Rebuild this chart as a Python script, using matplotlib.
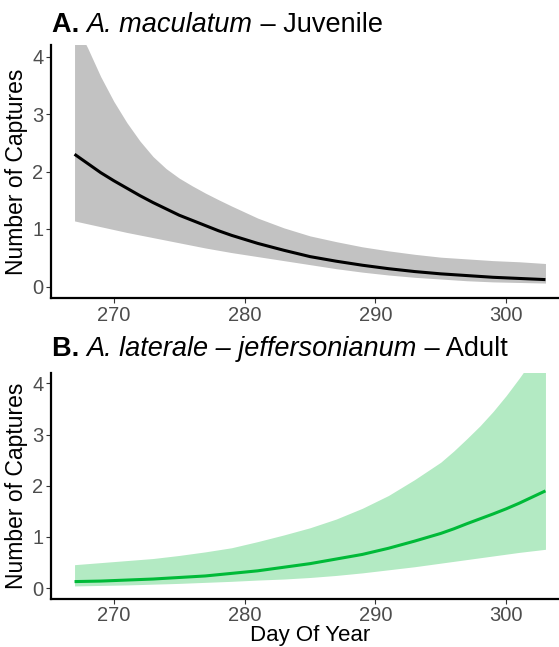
import matplotlib
matplotlib.use("Agg")
import matplotlib.pyplot as plt

plt.rcParams['font.family'] = ['Liberation Sans', 'DejaVu Sans']

# day of year
days = [267, 268, 269, 270, 271, 272, 273, 274, 275, 276, 277, 278, 279,
        281, 283, 285, 287, 289, 291, 293, 295, 296, 297, 298, 299, 300,
        301, 302, 303]

# A. maculatum - Juvenile
juv_fit = [2.30, 2.14, 1.98, 1.84, 1.71, 1.58, 1.46, 1.35, 1.24, 1.15, 1.06,
           0.97, 0.89, 0.75, 0.63, 0.52, 0.44, 0.37, 0.31, 0.26, 0.22, 0.205,
           0.19, 0.175, 0.16, 0.15, 0.14, 0.13, 0.12]
juv_lo = [1.14, 1.09, 1.04, 0.99, 0.94, 0.895, 0.85, 0.805, 0.76, 0.715, 0.67,
          0.63, 0.59, 0.52, 0.45, 0.38, 0.31, 0.25, 0.20, 0.16, 0.13, 0.115,
          0.10, 0.09, 0.08, 0.075, 0.07, 0.065, 0.06]
juv_hi = [4.60, 4.15, 3.65, 3.22, 2.85, 2.53, 2.26, 2.05, 1.885, 1.75, 1.625,
          1.51, 1.40, 1.19, 1.02, 0.88, 0.78, 0.69, 0.62, 0.56, 0.51, 0.495,
          0.48, 0.465, 0.45, 0.44, 0.43, 0.415, 0.40]

# A. laterale - jeffersonianum - Adult
adu_fit = [0.13, 0.135, 0.14, 0.15, 0.16, 0.17, 0.18, 0.195, 0.21, 0.225,
           0.24, 0.265, 0.29, 0.34, 0.41, 0.48, 0.57, 0.66, 0.78, 0.92, 1.07,
           1.16, 1.26, 1.355, 1.45, 1.55, 1.66, 1.78, 1.90]
adu_lo = [0.045, 0.05, 0.055, 0.06, 0.065, 0.072, 0.08, 0.087, 0.095, 0.105,
          0.115, 0.125, 0.135, 0.16, 0.18, 0.21, 0.25, 0.30, 0.36, 0.42, 0.49,
          0.525, 0.56, 0.595, 0.63, 0.665, 0.70, 0.73, 0.76]
adu_hi = [0.46, 0.48, 0.50, 0.52, 0.54, 0.56, 0.58, 0.61, 0.64, 0.675, 0.71,
          0.75, 0.79, 0.91, 1.04, 1.18, 1.35, 1.56, 1.81, 2.12, 2.46, 2.68,
          2.92, 3.17, 3.45, 3.76, 4.10, 4.46, 4.85]

xticks = [270, 280, 290, 300]
yticks = [0, 1, 2, 3, 4]

W, H = 559, 647
fig = plt.figure(figsize=(W / 100, H / 100), dpi=100)


def panel(top, bottom, fit, lo, hi, line_col, band_col):
    # axes runs past the right edge of the figure, like the cropped original
    ax = fig.add_axes([51 / W, 1 - bottom / H, 518 / W, (bottom - top) / H])
    ax.fill_between(days, lo, hi, color=band_col, lw=0)
    ax.plot(days, fit, color=line_col, lw=2.2, solid_capstyle='butt')
    ax.set_xlim(265.2, 304.8)
    ax.set_ylim(-0.2, 4.2)
    ax.set_xticks(xticks)
    ax.set_yticks(yticks)
    for s in ['top', 'right']:
        ax.spines[s].set_visible(False)
    for s in ['left', 'bottom']:
        ax.spines[s].set_linewidth(1.6)
    ax.tick_params(labelsize=14.5, labelcolor='#4D4D4D', color='#333333',
                   length=3.5, width=0.8, pad=2)
    ax.set_ylabel("Number of Captures", fontsize=16.5, labelpad=3)
    return ax


def chained(x, y, parts, size=19.5):
    # title made of bold / italic / plain pieces placed one after another
    prev = None
    for txt, kw in parts:
        if prev is None:
            prev = fig.text(x, y, txt, fontsize=size, va='baseline',
                            ha='left', **kw)
        else:
            prev = fig.add_artist(matplotlib.text.Annotation(
                txt, xy=(1, 0), xycoords=prev, fontsize=size,
                va='bottom', ha='left', **kw))


ax1 = panel(45, 298, juv_fit, juv_lo, juv_hi, 'black', '#C2C2C2')
ax2 = panel(373, 598.5, adu_fit, adu_lo, adu_hi, '#00BA38', '#B3EAC3')
ax2.set_xlabel("Day Of Year", fontsize=16, labelpad=0)

chained(52 / W, 1 - 32.5 / H, [("A. ", {'weight': 'bold'}),
                               ("A. maculatum", {'style': 'italic'}),
                               (" \u2013 Juvenile", {})])
chained(52 / W, 1 - 356 / H, [("B. ", {'weight': 'bold'}),
                              ("A. laterale \u2013 jeffersonianum",
                               {'style': 'italic'}),
                              (" \u2013 Adult", {})])

fig.savefig("out.png", dpi=100)
